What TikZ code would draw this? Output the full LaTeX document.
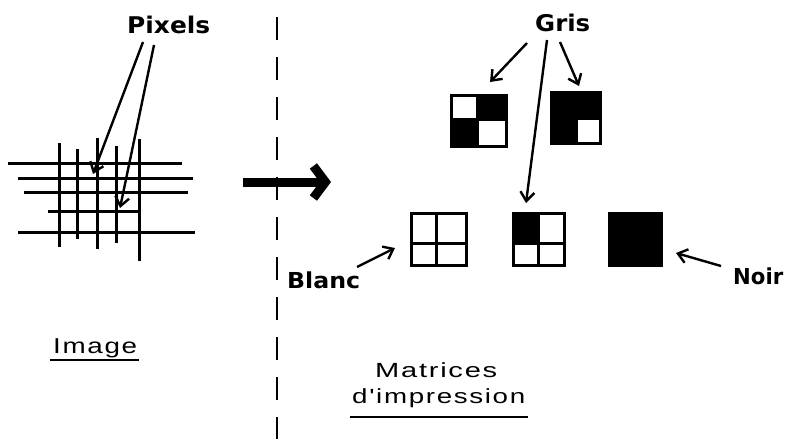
\documentclass[tikz,border=0pt]{standalone}
\usepackage{fontspec}
\setmainfont{DejaVu Sans}
\newfontfamily\capfont[LetterSpace=6]{Liberation Sans}
\usetikzlibrary{arrows.meta}
\newcommand{\fitw}[2]{\resizebox{#1}{\height}{#2}}
\begin{document}
\begin{tikzpicture}[x=1pt,y=-1pt,
  lbl/.style={inner sep=0pt, anchor=base west, font=\bfseries\fontsize{23}{25}\selectfont},
  capt/.style={inner sep=0pt, anchor=base west, font=\capfont\fontsize{21.5}{24}\selectfont},
  gridline/.style={line width=3pt},
  ptr/.style={line width=2.4pt, -{Straight Barb[length=9pt,width=14pt]}},
  cell/.style={line width=3pt},
  uline/.style={line width=2.8pt},
]
\fill[white] (0,0) rectangle (795,439);
\useasboundingbox (0,0) rectangle (795,439);

% image grid
\draw[gridline] (8,163)--(182,163) (18,178)--(193,178) (24,192)--(188,192)
  (48,211)--(140,211) (18,232)--(195,232);
\draw[gridline] (59,143)--(59,247) (77,149)--(77,239) (97,138)--(97,249)
  (116,146)--(116,243) (139,139)--(139,261);
\coordinate (p1) at (93,174);
\coordinate (p2) at (120,208);

% labels
\node[lbl] (pix) at (127,33) {\fitw{83pt}{Pixels}};
\node[lbl] (gris) at (535,31) {\fitw{55pt}{Gris}};
\node[lbl, font=\bfseries\fontsize{22}{24}\selectfont] (blanc) at (287,288) {\fitw{73pt}{Blanc}};
\node[lbl, font=\bfseries\fontsize{22}{24}\selectfont] (noir) at (733,284) {\fitw{50pt}{Noir}};
\node[capt] (img) at (53,353) {\fitw{84pt}{Image}};
\node[capt, font=\capfont\fontsize{20.5}{24}\selectfont] (mat1) at (375,377) {\fitw{122pt}{Matrices}};
\node[capt, font=\capfont\fontsize{20.5}{24}\selectfont] (mat2) at (352,403) {\fitw{173pt}{d'impression}};

\draw[uline] ([shift={(-3,7)}]img.base west) -- ([shift={(2,7)}]img.base east);
\draw[uline] ([shift={(-2,14)}]mat2.base west) -- ([shift={(3,14)}]mat2.base east);

% pixel arrows
\draw[ptr] ([shift={(16,9)}]pix.base west) -- (p1);
\draw[ptr] ([shift={(27,12)}]pix.base west) -- (p2);

% dashed separator
\draw[line width=2.4pt, dash pattern=on 23pt off 17pt] (277,17)--(277,439);

% big arrow
\coordinate (bigA) at (243,182);
\coordinate (bigB) at (331,182);
\draw[line width=9pt, -{Straight Barb[length=12pt,width=32pt]}] (bigA)--(bigB);

% matrices
% M1
\fill (477,95) rectangle (506,119);
\fill (451,119) rectangle (477,146);
\draw[cell] (451,95) rectangle (506,146) (477,95)--(477,146) (451,119)--(506,119);
% M2
\fill (551,92) rectangle (600,143);
\draw[cell, fill=white] (576,118) rectangle (600,143);
\draw[cell] (551,92) rectangle (600,143);
% M3
\draw[cell] (411,213) rectangle (466,265) (436,213)--(436,265) (411,243)--(466,243);
% M4
\fill (513,213) rectangle (538,243);
\draw[cell] (513,213) rectangle (564,265) (538,213)--(538,265) (513,243)--(564,243);
% M5
\fill (609,213) rectangle (661,265);
\draw[cell] (609,213) rectangle (661,265);

\coordinate (t1) at (490,82);
\coordinate (t2) at (579,86);
\coordinate (t4) at (526,203);
\coordinate (t3) at (395,248);
\coordinate (t5) at (676,253);

\draw[ptr] ([shift={(-8,12)}]gris.base west) -- (t1);
\draw[ptr] ([shift={(25,11)}]gris.base west) -- (t2);
\draw[ptr] ([shift={(12,9)}]gris.base west) -- (t4);
\draw[ptr] ([shift={(70,-21)}]blanc.base west) -- (t3);
\draw[ptr] ([shift={(-12,-18)}]noir.base west) -- (t5);
\end{tikzpicture}
\end{document}
